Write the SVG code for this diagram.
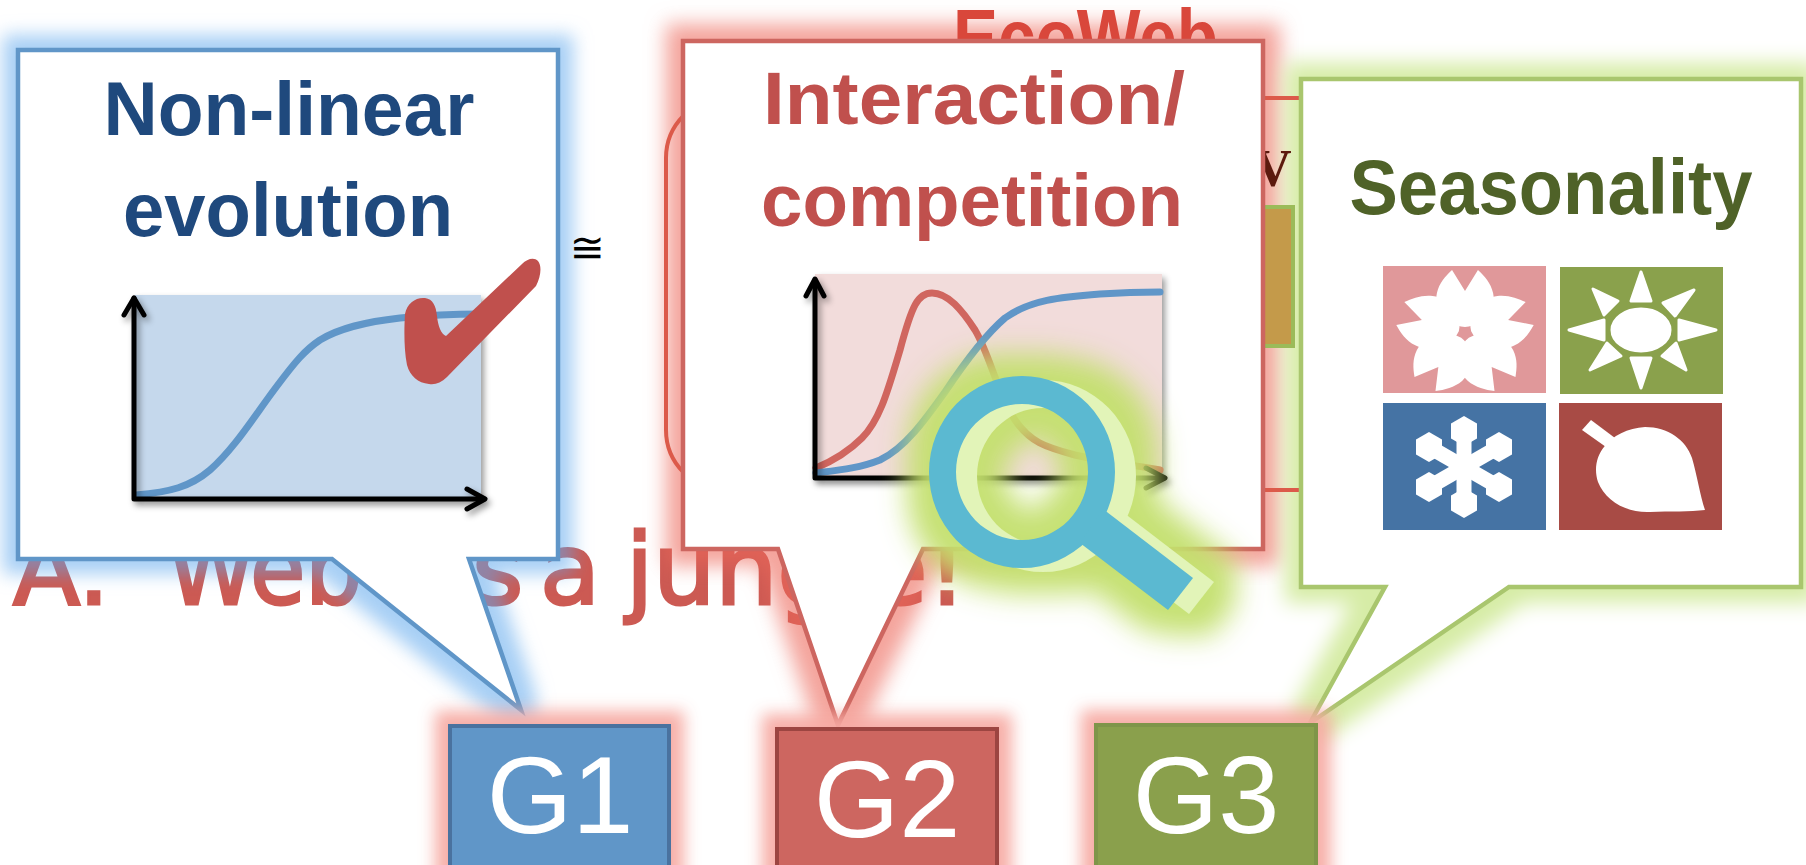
<svg xmlns="http://www.w3.org/2000/svg" width="1806" height="865" viewBox="0 0 1806 865">
  <defs>
    <style>
      .title { font-family: "Liberation Sans", Arial, sans-serif; font-weight: bold; text-anchor: middle; }
      .glabel { font-family: "Liberation Sans", Arial, sans-serif; font-size: 110px; fill: #ffffff; text-anchor: middle; }
      .axis { fill: none; stroke: #000000; stroke-width: 5; stroke-linecap: round; stroke-linejoin: round; }
      .curve { fill: none; stroke-width: 7; stroke-linecap: round; }
      .callout { fill: #ffffff; stroke-width: 4.5; stroke-linejoin: miter; }
      .icon { fill: #ffffff; }
    </style>

    <!-- halo-only filters (the shape itself is drawn separately) -->
    <filter id="halo-blue" x="-14%" y="-14%" width="128%" height="128%" color-interpolation-filters="sRGB">
      <feMorphology in="SourceAlpha" operator="dilate" radius="15" result="grow"/>
      <feGaussianBlur in="grow" stdDeviation="9" result="soft"/>
      <feFlood flood-color="#5fa7ec" flood-opacity="0.55"/>
      <feComposite in2="soft" operator="in"/>
    </filter>
    <filter id="halo-red" x="-14%" y="-14%" width="128%" height="128%" color-interpolation-filters="sRGB">
      <feMorphology in="SourceAlpha" operator="dilate" radius="17" result="grow"/>
      <feGaussianBlur in="grow" stdDeviation="10" result="soft"/>
      <feFlood flood-color="#ed675a" flood-opacity="0.6"/>
      <feComposite in2="soft" operator="in"/>
    </filter>
    <filter id="halo-green" x="-14%" y="-14%" width="128%" height="128%" color-interpolation-filters="sRGB">
      <feMorphology in="SourceAlpha" operator="dilate" radius="16" result="grow"/>
      <feGaussianBlur in="grow" stdDeviation="10" result="soft"/>
      <feFlood flood-color="#d6eca6" flood-opacity="1"/>
      <feComposite in2="soft" operator="in"/>
    </filter>
    <!-- halo + shape -->
    <filter id="glow-pink" x="-35%" y="-35%" width="170%" height="170%" color-interpolation-filters="sRGB">
      <feMorphology in="SourceAlpha" operator="dilate" radius="13" result="grow"/>
      <feGaussianBlur in="grow" stdDeviation="8" result="soft"/>
      <feFlood flood-color="#f6aaa3" flood-opacity="0.95"/>
      <feComposite in2="soft" operator="in" result="halo"/>
      <feMerge><feMergeNode in="halo"/><feMergeNode in="SourceGraphic"/></feMerge>
    </filter>
    <filter id="glow-lens" x="-50%" y="-50%" width="200%" height="200%" color-interpolation-filters="sRGB">
      <feMorphology in="SourceAlpha" operator="dilate" radius="22" result="grow"/>
      <feGaussianBlur in="grow" stdDeviation="14" result="soft"/>
      <feFlood flood-color="#c3df6c" flood-opacity="0.95"/>
      <feComposite in2="soft" operator="in" result="halo"/>
      <feMerge><feMergeNode in="halo"/><feMergeNode in="SourceGraphic"/></feMerge>
    </filter>
    <filter id="shadow" x="-10%" y="-10%" width="125%" height="125%" color-interpolation-filters="sRGB">
      <feGaussianBlur in="SourceAlpha" stdDeviation="3"/>
      <feOffset dx="3" dy="4" result="off"/>
      <feFlood flood-color="#000000" flood-opacity="0.4"/>
      <feComposite in2="off" operator="in"/>
      <feMerge><feMergeNode/><feMergeNode in="SourceGraphic"/></feMerge>
    </filter>

    <!-- speech-bubble outlines -->
    <path id="bubble-nonlinear" d="M18,50 H558 V559 H469 L521,710 L332,559 H18 Z"/>
    <path id="bubble-interaction" d="M683,41 H1263 V549 H923 L838,725 L778,549 H683 Z"/>
    <path id="bubble-seasonality" d="M1301,79 H1801 V587 H1509 L1310,723 L1385,587 H1301 Z"/>

    <path id="petal" d="M0,-6 C-20,-8 -29,-24 -26,-40 C-24,-50 -18,-57 -12,-63 L0,-42 L12,-63 C18,-57 24,-50 26,-40 C29,-24 20,-8 0,-6 Z"/>
    <polygon id="hexcap" points="0,-15 13,-7.5 13,7.5 0,15 -13,7.5 -13,-7.5"/>
  </defs>

  <rect width="1806" height="865" fill="#ffffff"/>

  <text id="tagline" font-family="'DejaVu Sans', sans-serif" font-size="98" fill="#cc5a53" stroke="#cc5a53" stroke-width="3"><tspan x="13" y="604">A.</tspan><tspan x="167" y="604" textLength="195" lengthAdjust="spacingAndGlyphs">Web</tspan><tspan x="445" y="604">is</tspan><tspan x="540" y="604">a</tspan><tspan x="626" y="604">jungle!</tspan></text>

  <!-- coloured halos behind the bubbles -->
  <g id="halos">
    <use href="#bubble-nonlinear" filter="url(#halo-blue)"/>
    <use href="#bubble-interaction" filter="url(#halo-red)"/>
    <use href="#bubble-seasonality" filter="url(#halo-green)"/>
  </g>

  <!-- slide underneath -->
  <g id="backdrop">
    <text x="953" y="65" font-family="'Liberation Sans', Arial, sans-serif" font-weight="bold" font-size="80" fill="#d9473b" textLength="265" lengthAdjust="spacingAndGlyphs">EcoWeb</text>
    <rect x="666" y="98" width="720" height="392" rx="60" fill="none" stroke="#dc5a4a" stroke-width="4"/>
    <rect x="1200" y="207" width="93" height="139" fill="#c49a4a" stroke="#9bbb59" stroke-width="4"/>
    <text x="1254" y="186" font-family="'Liberation Serif', 'Times New Roman', serif" font-weight="bold" font-size="52" fill="#5c1a0e">V</text>
    <text x="587" y="262" font-family="'DejaVu Sans', sans-serif" font-size="42" text-anchor="middle" fill="#000000">≅</text>
  </g>

  <!-- G1 bubble: non-linear evolution -->
  <g id="callout-nonlinear">
    <use href="#bubble-nonlinear" class="callout" stroke="#6096c8"/>
    <text class="title" x="289" y="135" font-size="76" fill="#1f497d" textLength="371" lengthAdjust="spacingAndGlyphs">Non-linear</text>
    <text class="title" x="288" y="236" font-size="76" fill="#1f497d" textLength="330" lengthAdjust="spacingAndGlyphs">evolution</text>
    <rect x="135" y="295" width="346" height="202" fill="#c5d8ec" filter="url(#shadow)"/>
    <path class="curve" stroke="#6096c8" d="M136,495 C170,492 190,487 210,470 C235,448 255,415 277,386 C295,362 305,350 320,340 C340,328 365,322 400,318 C430,315 455,314 480,314"/>
    <g filter="url(#shadow)">
      <path class="axis" d="M134,298 V499 H484"/>
      <path class="axis" d="M124,315 L134,298 L144,315"/>
      <path class="axis" d="M467,489 L485,499 L467,509"/>
    </g>
    <path fill="#c0504d" d="M405,314 C407,303 416,297 425,298 C433,299 436,306 437,316 C438,326 441,334 446,336 L522,264 C527,259 534,257 538,261 C542,266 541,276 536,286 L447,377 C441,383 435,385 429,384 C418,383 410,376 407,365 C404,350 404,330 405,314 Z"/>
  </g>

  <!-- G2 bubble: interaction / competition -->
  <g id="callout-interaction">
    <use href="#bubble-interaction" class="callout" stroke="#cd6660"/>
    <text class="title" x="974" y="124" font-size="74" fill="#c0504d" textLength="422" lengthAdjust="spacingAndGlyphs">Interaction/</text>
    <text class="title" x="972" y="226" font-size="74" fill="#c0504d" textLength="422" lengthAdjust="spacingAndGlyphs">competition</text>
    <rect x="815" y="274" width="347" height="203" fill="#f2dcdb" filter="url(#shadow)"/>
    <path class="curve" stroke="#d0665f" d="M816,468 C835,460 850,450 862,438 C880,420 888,390 900,350 C912,305 918,293 932,293 C948,293 962,310 975,330 C990,355 998,395 1015,420 C1030,442 1045,447 1075,455 C1110,463 1140,466 1160,470"/>
    <path class="curve" stroke="#6096c8" d="M816,473 C840,470 860,468 880,460 C905,448 925,420 945,392 C965,362 985,335 1005,318 C1030,300 1060,297 1100,294 C1130,292 1150,292 1160,292"/>
    <g filter="url(#shadow)">
      <path class="axis" d="M815,280 V478 H1164"/>
      <path class="axis" d="M806,296 L815,279 L824,296"/>
      <path class="axis" d="M1146,468 L1165,478 L1146,488"/>
    </g>
  </g>

  <!-- magnifying glass -->
  <g id="magnifier" filter="url(#glow-lens)">
    <g transform="translate(21,4)" fill="#e2f4b8">
      <path fill-rule="evenodd" d="M929,472 a93,96 0 1,0 186,0 a93,96 0 1,0 -186,0 Z M956,472 a66,68 0 1,0 132,0 a66,68 0 1,0 -132,0 Z"/>
      <polygon points="1080,543 1103,509 1193,578 1168,610"/>
    </g>
    <g fill="#5bb9d1">
      <path fill-rule="evenodd" d="M929,472 a93,96 0 1,0 186,0 a93,96 0 1,0 -186,0 Z M956,472 a66,68 0 1,0 132,0 a66,68 0 1,0 -132,0 Z"/>
      <polygon points="1080,543 1103,509 1193,578 1168,610"/>
    </g>
  </g>

  <!-- G3 bubble: seasonality -->
  <g id="callout-seasonality">
    <use href="#bubble-seasonality" class="callout" stroke="#a9c66e"/>
    <text class="title" x="1551" y="214" font-size="77" fill="#4f6228" textLength="403" lengthAdjust="spacingAndGlyphs">Seasonality</text>

    <!-- spring -->
    <rect x="1383" y="266" width="163" height="127" fill="#e0989a"/>
    <g class="icon" transform="translate(1465,333) scale(1.08,1)">
      <use href="#petal"/>
      <use href="#petal" transform="rotate(72)"/>
      <use href="#petal" transform="rotate(144)"/>
      <use href="#petal" transform="rotate(216)"/>
      <use href="#petal" transform="rotate(288)"/>
    </g>

    <!-- summer -->
    <rect x="1560" y="267" width="163" height="127" fill="#8aa14c"/>
    <g class="icon" stroke="#ffffff" stroke-width="3" stroke-linejoin="round">
      <ellipse cx="1641" cy="330" rx="29" ry="21"/>
      <polygon points="1641,272 1631,301 1651,301"/>
      <polygon points="1641,388 1631,358 1651,358"/>
      <polygon points="1569,330 1604,320 1604,340"/>
      <polygon points="1716,330 1679,320 1679,340"/>
      <polygon points="1593,289 1604,315 1618,301"/>
      <polygon points="1694,290 1663,303 1675,316"/>
      <polygon points="1590,370 1607,343 1621,356"/>
      <polygon points="1686,370 1662,356 1676,343"/>
    </g>

    <!-- winter -->
    <rect x="1383" y="403" width="163" height="127" fill="#4573a4"/>
    <g class="icon" transform="translate(1464,467)">
      <g stroke="#ffffff" stroke-width="15">
        <line x1="0" y1="-38" x2="0" y2="38"/>
        <line x1="-33" y1="-19" x2="33" y2="19"/>
        <line x1="-33" y1="19" x2="33" y2="-19"/>
      </g>
      <use href="#hexcap" x="0" y="-36"/>
      <use href="#hexcap" x="0" y="36"/>
      <use href="#hexcap" x="-35" y="-20"/>
      <use href="#hexcap" x="35" y="-20"/>
      <use href="#hexcap" x="-35" y="20"/>
      <use href="#hexcap" x="35" y="20"/>
    </g>

    <!-- autumn -->
    <rect x="1559" y="403" width="163" height="127" fill="#a84b45"/>
    <g class="icon">
      <polygon points="1582,430 1591,420 1615,438 1606,447"/>
      <path d="M1604,447 C1612,436 1628,428 1645,427 C1668,427 1686,440 1692,458 C1697,475 1700,495 1705,510 C1690,512 1670,511 1650,512 C1625,513 1605,500 1598,482 C1594,470 1596,457 1604,447 Z"/>
    </g>
  </g>

  <!-- group labels -->
  <g id="g1">
    <rect x="450" y="726" width="219" height="160" fill="#6096c8" stroke="#4a729f" stroke-width="4" filter="url(#glow-pink)"/>
    <text class="glabel" x="560" y="833">G1</text>
  </g>
  <g id="g2">
    <rect x="777" y="729" width="220" height="160" fill="#cd6660" stroke="#9c4541" stroke-width="4" filter="url(#glow-pink)"/>
    <text class="glabel" x="887" y="837">G2</text>
  </g>
  <g id="g3">
    <rect x="1096" y="725" width="220" height="160" fill="#8aa04c" stroke="#7f9549" stroke-width="4" filter="url(#glow-pink)"/>
    <text class="glabel" x="1206" y="833">G3</text>
  </g>
</svg>
